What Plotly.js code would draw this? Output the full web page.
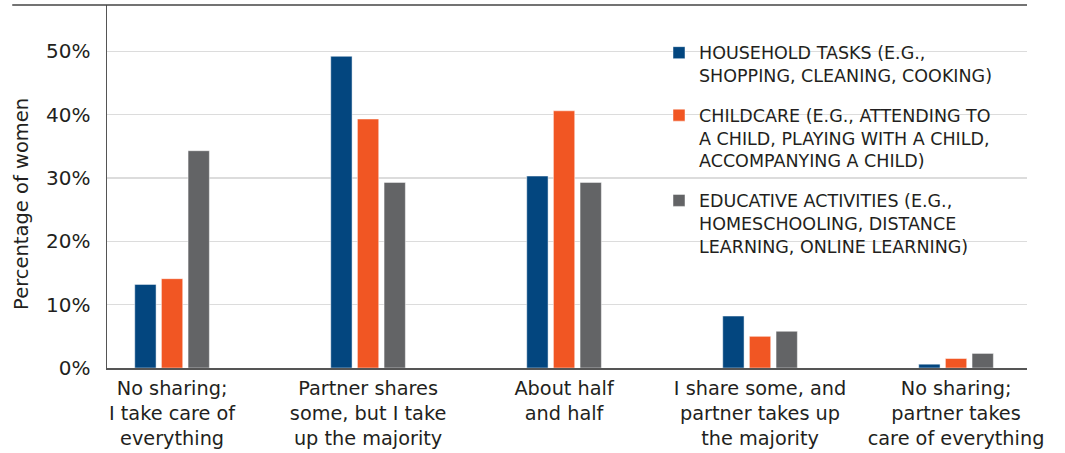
<!DOCTYPE html>
<html>
<head>
<meta charset="utf-8">
<script src="https://cdn.plot.ly/plotly-3.0.1.min.js"></script>
<style>html,body{margin:0;padding:0;background:#fff;}#chart{width:1065px;height:453px;}</style>
</head>
<body>
<div id="chart"></div>
<script>
const categories = [
  "No sharing;<br>I take care of<br>everything",
  "Partner shares<br>some, but I take<br>up the majority",
  "About half<br>and half",
  "I share some, and<br>partner takes up<br>the majority",
  "No sharing;<br>partner takes<br>care of everything"
];
const seriesNames = [
  "HOUSEHOLD TASKS (E.G.,<br>SHOPPING, CLEANING, COOKING)",
  "CHILDCARE (E.G., ATTENDING TO<br>A CHILD, PLAYING WITH A CHILD,<br>ACCOMPANYING A CHILD)",
  "EDUCATIVE ACTIVITIES (E.G.,<br>HOMESCHOOLING, DISTANCE<br>LEARNING, ONLINE LEARNING)"
];
const yTitle = "Percentage of women";
const household = [13.2, 49.2, 30.3, 8.2, 0.6];
const childcare = [14.1, 39.3, 40.6, 5.0, 1.5];
const educative = [34.3, 29.3, 29.3, 5.8, 2.3];
const tickVals = [0, 10, 20, 30, 40, 50];
const tickText = ["0%", "10%", "20%", "30%", "40%", "50%"];
const colors = ["#03467f", "#f15623", "#636466"];

const xIdx = categories.map((_, i) => i);
const allSeries = [household, childcare, educative];
const traces = allSeries.map((vals, k) => ({
  type: "bar",
  x: xIdx,
  y: vals,
  name: seriesNames[k],
  legendgroup: "g" + k,
  marker: {color: colors[k], line: {color: "rgba(255,255,255,0.6)", width: 0.8}},
  hoverinfo: "skip"
}));

const FONT = "'DejaVu Sans', 'Open Sans', sans-serif";
const layout = {
  width: 1065,
  height: 453,
  margin: {l: 107, r: 38, t: 5, b: 85},
  paper_bgcolor: "#fff",
  plot_bgcolor: "#fff",
  barmode: "group",
  bargap: 0.592,
  bargroupgap: 0.2,
  showlegend: true,
  font: {family: FONT, color: "#231f20"},
  xaxis: {
    range: [-0.332, 4.362],
    tickvals: xIdx,
    ticktext: categories,
    showgrid: false,
    zeroline: false,
    showline: true,
    linecolor: "#555555",
    linewidth: 1.5,
    ticks: "",
    ticklabelstandoff: 2,
    tickfont: {size: 19.3, family: FONT, color: "#231f20"},
    fixedrange: true
  },
  yaxis: {
    range: [0, 57.3],
    tickvals: tickVals,
    ticktext: tickText,
    showgrid: true,
    gridcolor: "#dcdcdc",
    gridwidth: 1.5,
    zeroline: false,
    showline: true,
    linecolor: "#555555",
    linewidth: 1.5,
    ticks: "",
    ticklabelstandoff: 11,
    tickfont: {size: 20, family: FONT, color: "#231f20"},
    fixedrange: true
  },
  legend: {
    x: 0.6,
    y: 0.918,
    xanchor: "left",
    yanchor: "top",
    bgcolor: "rgba(0,0,0,0)",
    valign: "top",
    traceorder: "grouped",
    tracegroupgap: 14,
    font: {size: 17.5, family: FONT, color: "#231f20"}
  },
  annotations: [{
    text: yTitle,
    xref: "paper", yref: "paper",
    x: -0.0924, y: 0.452,
    xanchor: "center", yanchor: "middle",
    textangle: -90,
    showarrow: false,
    font: {size: 19.5, family: FONT, color: "#231f20"}
  }],
  shapes: [{
    type: "line", xref: "paper", yref: "paper",
    x0: -0.103, x1: 1, y0: 1, y1: 1,
    line: {color: "#444444", width: 1.5}
  }]
};

Plotly.newPlot("chart", traces, layout, {displayModeBar: false, staticPlot: true});
</script>
</body>
</html>
